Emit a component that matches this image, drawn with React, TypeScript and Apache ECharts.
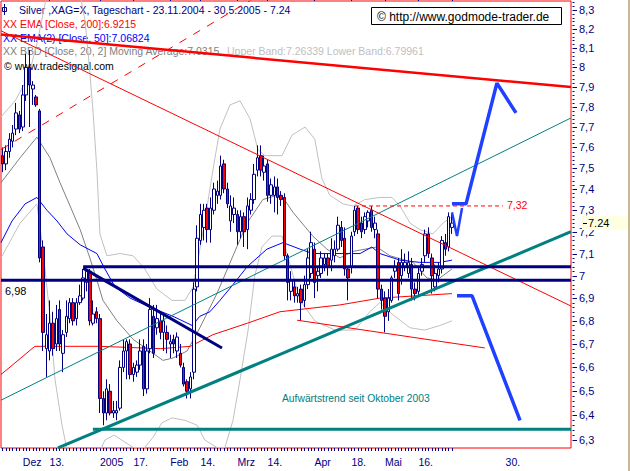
import React, { useEffect, useRef } from "react";
import * as echarts from "echarts";

// ---------- categories (trading days) ----------
const SLOT_COUNT = 170;
const FIRST_DAY = Date.UTC(2004, 10, 23);
function buildTradingDays(): string[] {
  const out: string[] = [];
  let t = FIRST_DAY;
  while (out.length < SLOT_COUNT) {
    const d = new Date(t);
    const wd = d.getUTCDay();
    if (wd !== 0 && wd !== 6) out.push(d.toISOString().slice(0, 10));
    t += 86400000;
  }
  return out;
}
const categories = buildTradingDays();

// ---------- candles [open, close, low, high] ----------
const ohlc: number[][] = [
  [7.56, 7.52, 7.48, 7.6], [7.52, 7.58, 7.49, 7.61], [7.58, 7.64, 7.55, 7.67], [7.63, 7.67, 7.6, 7.71],
  [7.69, 7.77, 7.66, 7.82], [7.76, 7.69, 7.67, 7.78], [7.7, 7.86, 7.68, 7.91], [7.86, 8.0, 7.83, 8.07],
  [8.0, 7.91, 7.7, 8.09], [7.89, 7.91, 7.81, 7.93], [7.85, 7.81, 7.8, 7.86], [7.78, 7.08, 7.06, 7.79],
  [7.13, 6.75, 6.67, 7.16], [6.68, 6.74, 6.56, 6.83], [6.67, 6.79, 6.63, 6.89], [6.79, 6.68, 6.65, 6.84],
  [6.7, 6.81, 6.67, 6.87], [6.85, 6.7, 6.67, 6.89], [6.66, 6.74, 6.58, 6.76], [6.75, 6.82, 6.73, 6.89],
  [6.81, 6.88, 6.79, 6.9], [6.88, 6.8, 6.78, 6.9], [6.81, 6.88, 6.78, 6.9], [6.88, 6.91, 6.87, 6.96],
  [6.9, 6.99, 6.89, 7.03], [6.97, 7.02, 6.93, 7.03], [7.02, 6.8, 6.78, 7.03], [6.79, 6.83, 6.78, 6.89],
  [6.84, 6.81, 6.79, 6.86], [6.81, 6.47, 6.41, 6.83], [6.47, 6.41, 6.36, 6.5], [6.41, 6.51, 6.38, 6.55],
  [6.5, 6.41, 6.4, 6.53], [6.41, 6.42, 6.39, 6.46], [6.41, 6.42, 6.38, 6.46], [6.43, 6.6, 6.42, 6.63],
  [6.6, 6.67, 6.58, 6.72], [6.67, 6.71, 6.55, 6.72], [6.7, 6.57, 6.55, 6.72], [6.57, 6.6, 6.54, 6.62],
  [6.58, 6.61, 6.56, 6.63], [6.61, 6.67, 6.59, 6.72], [6.69, 6.51, 6.48, 6.72], [6.51, 6.67, 6.49, 6.7],
  [6.68, 6.85, 6.66, 6.9], [6.82, 6.66, 6.64, 6.87], [6.77, 6.81, 6.74, 6.87], [6.8, 6.75, 6.72, 6.84],
  [6.75, 6.8, 6.67, 6.83], [6.75, 6.72, 6.66, 6.78], [6.7, 6.71, 6.64, 6.74], [6.72, 6.7, 6.66, 6.74],
  [6.67, 6.73, 6.64, 6.75], [6.66, 6.61, 6.6, 6.7], [6.6, 6.53, 6.52, 6.62], [6.54, 6.5, 6.47, 6.55],
  [6.51, 6.56, 6.47, 6.58], [6.58, 6.94, 6.55, 6.97], [6.95, 7.17, 6.93, 7.23], [7.16, 7.28, 7.14, 7.33],
  [7.22, 7.3, 7.16, 7.33], [7.31, 7.21, 7.15, 7.33], [7.21, 7.31, 7.15, 7.36], [7.3, 7.4, 7.28, 7.43],
  [7.37, 7.39, 7.33, 7.44], [7.37, 7.51, 7.35, 7.56], [7.52, 7.4, 7.38, 7.54], [7.4, 7.33, 7.31, 7.43],
  [7.25, 7.32, 7.2, 7.37], [7.28, 7.31, 7.24, 7.36], [7.28, 7.2, 7.14, 7.3], [7.2, 7.27, 7.17, 7.3],
  [7.27, 7.2, 7.13, 7.29], [7.21, 7.32, 7.12, 7.36], [7.3, 7.35, 7.28, 7.38], [7.35, 7.47, 7.33, 7.52],
  [7.49, 7.55, 7.46, 7.61], [7.56, 7.49, 7.46, 7.61], [7.48, 7.51, 7.44, 7.56], [7.52, 7.37, 7.34, 7.54],
  [7.37, 7.42, 7.33, 7.45], [7.37, 7.41, 7.29, 7.46], [7.41, 7.36, 7.28, 7.45], [7.37, 7.35, 7.32, 7.39],
  [7.36, 7.09, 7.07, 7.38], [7.09, 6.97, 6.89, 7.1], [6.93, 6.98, 6.89, 7.02], [6.95, 6.91, 6.88, 6.98],
  [6.91, 6.92, 6.88, 6.95], [6.94, 6.88, 6.8, 6.96], [6.89, 6.96, 6.86, 7.0], [6.96, 7.08, 6.94, 7.12],
  [7.01, 7.15, 6.99, 7.2], [7.12, 6.97, 6.9, 7.15], [7.0, 7.02, 6.93, 7.04], [7.01, 7.08, 6.99, 7.11],
  [7.05, 7.08, 7.02, 7.1], [7.08, 7.04, 7.0, 7.1], [7.07, 7.12, 7.02, 7.17], [7.09, 7.12, 7.06, 7.16],
  [7.12, 7.23, 7.11, 7.27], [7.22, 7.16, 7.13, 7.25], [7.17, 7.03, 7.0, 7.22], [7.03, 6.99, 6.89, 7.04],
  [7.04, 7.18, 7.01, 7.2], [7.2, 7.3, 7.18, 7.32], [7.31, 7.21, 7.19, 7.32], [7.24, 7.2, 7.17, 7.27],
  [7.21, 7.27, 7.19, 7.29], [7.25, 7.29, 7.22, 7.3], [7.3, 7.22, 7.2, 7.32], [7.21, 7.24, 7.17, 7.27],
  [7.19, 6.94, 6.9, 7.21], [6.94, 6.89, 6.85, 6.96], [6.9, 6.82, 6.75, 6.93], [6.84, 6.9, 6.8, 6.94],
  [6.89, 6.99, 6.88, 7.0], [7.02, 7.04, 6.99, 7.07], [7.06, 6.92, 6.89, 7.08], [7.0, 7.06, 6.96, 7.12],
  [7.04, 7.06, 7.02, 7.1], [7.01, 7.06, 6.99, 7.11], [7.05, 6.94, 6.89, 7.08], [6.94, 6.92, 6.89, 6.97],
  [6.93, 7.01, 6.91, 7.04], [7.02, 7.05, 7.0, 7.08], [7.09, 7.19, 7.06, 7.21], [7.19, 7.1, 7.08, 7.22],
  [7.08, 7.0, 6.92, 7.1], [6.95, 7.01, 6.93, 7.05], [7.0, 7.03, 6.97, 7.06], [7.03, 7.16, 7.01, 7.18],
  [7.15, 7.12, 7.09, 7.19], [7.13, 7.27, 7.11, 7.29], [7.22, 7.24, 7.19, 7.28],
];

// ---------- indicators [dayIndex, price] ----------
const ema200 = [[-0.5, 6.57], [9.6, 6.69], [29, 6.69], [47, 6.68], [56, 6.69], [62.7, 6.74], [73, 6.79], [82.7, 6.84], [100.6, 6.87], [112.5, 6.9], [134, 6.92]];
const ema50 = [[-0.5, 7.15], [2.8, 7.25], [6.7, 7.33], [10.2, 7.36], [13.2, 7.3], [16.2, 7.25], [19.2, 7.19], [23.1, 7.14], [28.1, 7.1], [30.5, 7.03], [33.5, 6.95], [38, 6.9], [43.9, 6.86], [50.8, 6.82], [56.5, 6.78], [58.8, 6.82], [61.8, 6.84], [64.8, 6.89], [68.7, 6.96], [72.9, 7.04], [78.8, 7.12], [83.6, 7.15], [88.7, 7.12], [92.5, 7.1], [100.6, 7.1], [106.6, 7.1], [110.1, 7.13], [112.5, 7.1], [118.5, 7.07], [124.4, 7.06], [130.4, 7.06], [134, 7.07]];
const bbMiddle = [[-0.5, 7.43], [5.2, 7.55], [10.2, 7.65], [14.1, 7.55], [17.1, 7.43], [20.1, 7.32], [23.1, 7.21], [26, 7.08], [28.1, 6.98], [29.9, 6.89], [34.1, 6.8], [38.9, 6.72], [43.9, 6.67], [47.8, 6.63], [50.8, 6.64], [55, 6.67], [58.8, 6.77], [63.9, 6.92], [68.7, 7.09], [72.9, 7.24], [77.6, 7.35], [81.8, 7.37], [83.6, 7.36], [86.6, 7.29], [92.5, 7.18], [96.7, 7.12], [100.6, 7.08], [104.5, 7.11], [111.6, 7.13], [115.5, 7.09], [122.4, 7.06], [126.5, 6.99], [129.5, 6.98], [134, 7.03]];
const bbUpper = [[-0.5, 7.75], [3.7, 7.83], [7.6, 7.95], [10.2, 8.12], [12.6, 8.33], [14.7, 8.52], [18.6, 8.63], [20.7, 8.57], [23.1, 8.38], [24.5, 8.25], [25.4, 8.09], [26, 7.97], [26.9, 7.79], [28.1, 7.49], [29, 7.19], [31.1, 7.09], [35, 7.1], [38.9, 7.09], [42.4, 7.03], [46, 6.94], [50.5, 6.89], [54.4, 6.89], [56.8, 6.95], [60.3, 7.25], [62.7, 7.49], [64.8, 7.69], [67.8, 7.81], [70.8, 7.83], [73.8, 7.74], [76.1, 7.59], [78.2, 7.56], [83.3, 7.56], [86.3, 7.66], [90.2, 7.7], [93.1, 7.64], [95.2, 7.45], [97.6, 7.37], [101.5, 7.33], [104.5, 7.32], [108, 7.35], [112.5, 7.36], [116.1, 7.36], [118.5, 7.32], [121.5, 7.24], [124.4, 7.21], [128.3, 7.19], [131.3, 7.24], [134, 7.27]];
const bbLower = [[-0.5, 7.08], [5.2, 7.24], [10.2, 7.33], [12, 7.12], [14.1, 6.82], [15.6, 6.55], [17.7, 6.36], [19.5, 6.24], [23.1, 6.16], [27.5, 6.21], [30.5, 6.3], [33.2, 6.32], [38.9, 6.27], [42.4, 6.27], [44.8, 6.31], [47.5, 6.37], [50.5, 6.39], [54.4, 6.38], [58, 6.36], [60.3, 6.3], [63.9, 6.27], [66.3, 6.27], [68.7, 6.38], [70.8, 6.55], [73.2, 6.76], [75.2, 7.0], [77.3, 7.13], [80.3, 7.18], [83.3, 7.18], [85.7, 7.05], [88.7, 6.89], [93.1, 6.8], [99.1, 6.76], [105.1, 6.76], [109.5, 6.84], [112.5, 6.88], [116.1, 6.83], [121.5, 6.77], [125.9, 6.76], [130.4, 6.78], [134, 6.8]];

// ---------- drawn trend lines [dayIndex, price] ----------
const redTrendThin = [[-0.5, 8.19], [169.5, 6.865]];
const redTrendThick = [[-0.5, 8.17], [169.5, 7.9]];
const redTrendDashed = [[-0.5, 7.59], [77, 8.385]];
const tealChannel = [[-0.5, 6.463], [169.5, 7.745]];
const tealUptrend = [[16.5, 6.268], [169.5, 7.2]];
const tealSupport = [[26.9, 6.344], [169.5, 6.344]];
const navyResistance = [[24, 7.04], [169.5, 7.04]];
const navyLevel = [[-0.5, 6.98], [169.5, 6.98]];
const navyTriangle = [[24, 7.034], [65.4, 6.683]];
const redLowerTrend = [[87.8, 6.803], [143.8, 6.683]];
const redLevel = [[105.1, 7.32], [149.2, 7.32]];
const blueUpScenario = [[134, 7.33], [138.2, 7.33], [147.4, 7.92], [153.1, 7.77]];
const blueZigZag = [[134, 7.29], [135.5, 7.18], [137, 7.31]];
const blueDownScenario = [[135.5, 6.91], [140, 6.91], [154.3, 6.38]];

// ---------- axis ticks ----------
const xLabelIndex = [6, 14, 29, 39, 50, 59, 70, 79, 93, 104, 114, 124, 150];
const xLabelText = ["Dez", "13.", "2005", "17.", "Feb", "14.", "Mrz", "14.", "Apr", "18.", "Mai", "16.", "30."];
const xTallTickIndex = [14, 29, 39, 50, 59, 70, 79, 93, 104, 114, 124, 134];
const yTickValues = [8.3, 8.2, 8.1, 8.0, 7.9, 7.8, 7.7, 7.6, 7.5, 7.4, 7.3, 7.2, 7.1, 7.0, 6.9, 6.8, 6.7, 6.6, 6.5, 6.4, 6.3];
const yTickLabels = ["8,3", "8,2", "8,1", "8", "7,9", "7,8", "7,7", "7,6", "7,5", "7,4", "7,3", "7,2", "7,1", "7", "6,9", "6,8", "6,7", "6,6", "6,5", "6,4", "6,3"];
const lastPrice = 7.24;
const lastPriceLabel = "7.24";

const Y_MIN = 6.2678;
const Y_MAX = 8.348;
const NAVY = "#000080";
const FONT = '"Liberation Sans", Arial, sans-serif';

function minorTicks(): number[] {
  const out: number[] = [];
  for (let k = 630; k <= 834; k += 2) {
    if (k % 10 !== 0) out.push(k / 100);
  }
  return out;
}

function line(data: number[][], color: string, width: number, z: number, type: any = "solid") {
  return {
    type: "line",
    xAxisIndex: 1,
    yAxisIndex: 0,
    data,
    symbol: "none",
    silent: true,
    z,
    lineStyle: { color, width, type },
  };
}

function txt(x: number, y: number, text: string, fill: string, size: number, z = 1) {
  return {
    type: "text",
    x,
    y,
    z,
    silent: true,
    style: { text, fill, fontSize: size, fontFamily: FONT, verticalAlign: "middle", align: "left" },
  };
}

function buildOption(): any {
  return {
    animation: false,
    backgroundColor: "#ffffff",
    grid: {
      left: 1,
      top: 1,
      width: 570,
      height: 447,
      show: true,
      borderColor: "#ff0000",
      borderWidth: 1,
      backgroundColor: "transparent",
    },
    xAxis: [
      {
        type: "category",
        data: categories,
        boundaryGap: true,
        axisLine: { show: false },
        splitLine: { show: false },
        axisTick: {
          show: true,
          alignWithLabel: true,
          interval: (i: number) => i <= 134,
          length: 3,
          lineStyle: { color: NAVY, width: 1 },
        },
        axisLabel: {
          show: true,
          interval: (i: number) => xLabelIndex.indexOf(i) >= 0,
          formatter: (_v: string, i: number) => {
            const k = xLabelIndex.indexOf(i);
            return k >= 0 ? xLabelText[k] : "";
          },
          align: "left",
          color: NAVY,
          fontSize: 10.5,
          fontFamily: FONT,
          margin: 8,
        },
      },
      { type: "value", min: -0.5, max: 169.5, show: false },
      {
        type: "category",
        data: categories,
        boundaryGap: true,
        axisLine: { show: false },
        splitLine: { show: false },
        axisLabel: { show: false },
        axisTick: {
          show: true,
          alignWithLabel: true,
          interval: (i: number) => xTallTickIndex.indexOf(i) >= 0,
          length: 6,
          lineStyle: { color: NAVY, width: 1 },
        },
      },
    ],
    yAxis: [{ type: "log", logBase: 10, min: Y_MIN, max: Y_MAX, show: false, splitLine: { show: false } }],
    graphic: [
      { type: "rect", z: 1, shape: { x: 2.5, y: 7.5, width: 4, height: 4 }, style: { fill: "#fff", stroke: NAVY, lineWidth: 1 } },
      { type: "line", z: 1, shape: { x1: 4.5, y1: 4, x2: 4.5, y2: 15 }, style: { stroke: NAVY, lineWidth: 1 } },
      txt(19, 10, "Silver ,XAG=X, Tageschart - 23.11.2004 - 30.5.2005 - 7.24", NAVY, 10.5),
      txt(3, 24, "XX EMA [Close, 200]:6.9215", "#ff0000", 10.5),
      txt(3, 37.5, "XX EMA(2) [Close, 50]:7.06824", "#0000ff", 10.5),
      txt(3, 51, "XX BBD [Close, 20, 2] Moving Average:7.0315", "#808080", 10.5),
      txt(227, 51, "Upper Band:7.26339 Lower Band:6.79961", "#c0c0c0", 10.5),
      txt(4, 66, "\u00a9 www.tradesignal.com", "#000000", 10.5),
      { type: "rect", z: 10, shape: { x: 371.5, y: 7.5, width: 190, height: 17 }, style: { fill: "#ffffff", stroke: "#000000", lineWidth: 1 } },
      txt(377, 16.5, "\u00a9 http://www.godmode-trader.de", "#000000", 12, 11),
      txt(5, 291, "6,98", "#000000", 11, 6),
      txt(507, 205, "7,32", "#ff0000", 10.5, 6),
      txt(282, 398, "Aufw\u00e4rtstrend seit Oktober 2003", "#008080", 10.3, 6),
      { type: "rect", z: 0, shape: { x: 628, y: 0, width: 2, height: 471 }, style: { fill: "#c8b898" } },
    ],
    series: [
      line(bbUpper, "#c0c0c0", 1, 2),
      line(bbLower, "#c0c0c0", 1, 2),
      line(bbMiddle, "#808080", 1, 2),
      line(ema200, "#ff0000", 1, 2),
      line(ema50, "#0000ff", 1, 2),
      {
        type: "candlestick",
        xAxisIndex: 0,
        yAxisIndex: 0,
        data: ohlc,
        barWidth: 3,
        z: 3,
        silent: true,
        itemStyle: {
          color: "#ffffff",
          color0: "#ff0000",
          borderColor: NAVY,
          borderColor0: NAVY,
          borderWidth: 1,
        },
      },
      line(redTrendThin, "#ff0000", 1, 4),
      line(redTrendThick, "#ff0000", 2.5, 4),
      line(redTrendDashed, "#ff0000", 1, 4, [8, 8]),
      line(tealChannel, "#008080", 1, 4),
      line(tealUptrend, "#008080", 3, 4),
      line(tealSupport, "#008080", 3, 4),
      line(navyResistance, NAVY, 3, 4),
      line(navyLevel, NAVY, 3, 4),
      line(navyTriangle, NAVY, 3, 4),
      line(redLowerTrend, "#ff0000", 1, 4),
      line(redLevel, "#ff0000", 1, 4, [4, 3]),
      line(blueUpScenario, "#2040ff", 3.5, 5),
      line(blueZigZag, "#2040ff", 2.5, 5),
      line(blueDownScenario, "#2040ff", 3.5, 5),
      {
        type: "custom",
        xAxisIndex: 1,
        yAxisIndex: 0,
        clip: false,
        silent: true,
        z: 6,
        data: minorTicks().map((v) => [169.5, v]),
        renderItem: (_p: any, api: any) => {
          const pt = api.coord([api.value(0), api.value(1)]);
          return {
            type: "line",
            shape: { x1: pt[0] + 1.5, y1: Math.round(pt[1]) + 0.5, x2: pt[0] + 3.5, y2: Math.round(pt[1]) + 0.5 },
            style: { stroke: NAVY, lineWidth: 1 },
          };
        },
      },
      {
        type: "custom",
        xAxisIndex: 1,
        yAxisIndex: 0,
        clip: false,
        silent: true,
        z: 6,
        data: yTickValues.map((v) => [169.5, v]),
        renderItem: (p: any, api: any) => {
          const pt = api.coord([api.value(0), api.value(1)]);
          const y = Math.round(pt[1]) + 0.5;
          return {
            type: "group",
            children: [
              { type: "line", shape: { x1: pt[0] + 1.5, y1: y, x2: pt[0] + 6, y2: y }, style: { stroke: NAVY, lineWidth: 1 } },
              {
                type: "text",
                x: pt[0] + 8,
                y: pt[1],
                style: { text: yTickLabels[p.dataIndex], fill: NAVY, fontSize: 11, fontFamily: FONT, verticalAlign: "middle", align: "left" },
              },
            ],
          };
        },
      },
      {
        type: "custom",
        xAxisIndex: 1,
        yAxisIndex: 0,
        clip: false,
        silent: true,
        z: 7,
        data: [[169.5, lastPrice]],
        renderItem: (_p: any, api: any) => {
          const pt = api.coord([api.value(0), api.value(1)]);
          return {
            type: "group",
            children: [
              { type: "rect", shape: { x: pt[0] + 11, y: pt[1] - 7, width: 46, height: 14 }, style: { fill: "#ffffe1" } },
              { type: "line", shape: { x1: pt[0] + 12, y1: Math.round(pt[1]) + 0.5, x2: pt[0] + 16, y2: Math.round(pt[1]) + 0.5 }, style: { stroke: "#000000", lineWidth: 1 } },
              {
                type: "text",
                x: pt[0] + 17,
                y: pt[1],
                style: { text: lastPriceLabel, fill: "#000000", fontSize: 11, fontFamily: FONT, verticalAlign: "middle", align: "left" },
              },
            ],
          };
        },
      },
    ],
  };
}

export default function App() {
  const ref = useRef<HTMLDivElement>(null);
  useEffect(() => {
    if (!ref.current) return;
    const chart = echarts.init(ref.current, undefined, { renderer: "svg" });
    chart.setOption(buildOption());
    return () => chart.dispose();
  }, []);
  return (
    <div
      ref={ref}
      style={{ position: "fixed", left: 0, top: 0, width: 630, height: 471, background: "#ffffff" }}
    />
  );
}
